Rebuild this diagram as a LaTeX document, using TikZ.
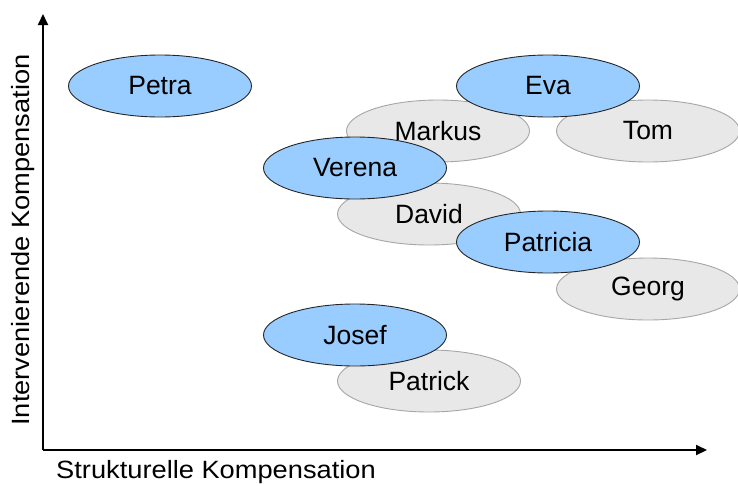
\documentclass[tikz,border=0pt]{standalone}
\usepackage{fontspec}
\usepackage{graphicx}
\setmainfont{Liberation Sans}
\usetikzlibrary{shapes.geometric,arrows.meta}
\definecolor{blue1}{HTML}{99CCFF}
\definecolor{gray1}{HTML}{E8E8E8}
\definecolor{gray2}{HTML}{A6A6A6}
\newcommand{\axtext}[1]{\scalebox{1.09}[1]{#1}}
\begin{document}
\begin{tikzpicture}[x=1pt,y=-1pt,
  ell/.style={ellipse,minimum width=183pt,minimum height=62pt,inner sep=0pt,font=\fontsize{26.5}{30}\selectfont},
  person/.style={ell,fill=blue1,draw=black!85,line width=0.9pt},
  other/.style={ell,fill=gray1,draw=gray2,line width=0.9pt},
  axis/.style={line width=2pt,-{Triangle[length=11pt,width=10pt]}},
  axlabel/.style={font=\fontsize{25}{30}\selectfont,inner sep=0pt}]
\useasboundingbox (0,0) rectangle (738,485);
\coordinate (o) at (43,450);
\coordinate (yend) at (43,14);
\coordinate (xend) at (707,450);
\draw[axis] (o) -- (yend);
\draw[axis] (o) -- (xend);
\node[axlabel] (xl) at (216,472) {\axtext{Strukturelle Kompensation}};
\node[axlabel,rotate=90] (yl) at (23,240) {\axtext{Intervenierende Kompensation}};
% gray ellipses
\node[other] (markus) at (438,131) {Markus};
\node[other] (tom) at (648,131) {Tom};
\node[other] (david) at (429,214) {David};
\node[other] (georg) at (648,289) {Georg};
\node[other] (patrick) at (429,381) {Patrick};
% blue ellipses
\node[person] (petra) at (160,86) {Petra};
\node[person] (eva) at (548,86) {Eva};
\node[person] (verena) at (355,168) {Verena};
\node[person] (patricia) at (548,242) {Patricia};
\node[person] (josef) at (355,335) {Josef};
\end{tikzpicture}
\end{document}
